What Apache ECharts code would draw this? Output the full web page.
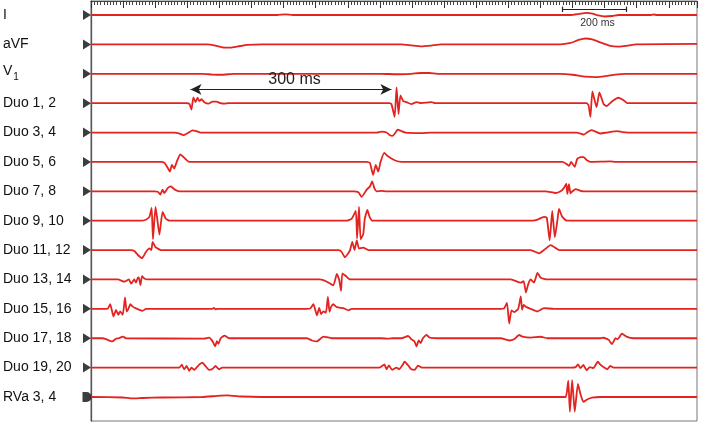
<!DOCTYPE html>
<html>
<head>
<meta charset="utf-8">
<script src="https://cdn.jsdelivr.net/npm/echarts@6/dist/echarts.min.js"></script>
<style>
html,body{margin:0;padding:0;background:#fff;}
#chart{width:701px;height:422px;}
</style>
</head>
<body>
<div id="chart"></div>
<script>
// Channel names (top to bottom)
const channelNames = ['I','aVF','V1','Duo 1, 2','Duo 3, 4','Duo 5, 6','Duo 7, 8','Duo 9, 10',
  'Duo 11, 12','Duo 13, 14','Duo 15, 16','Duo 17, 18','Duo 19, 20','RVa 3, 4'];
const channelStep = 30;          // amplitude units between neighbouring baselines
const timeMin = 0, timeMax = 1888; // ms

// Traces: [time (ms), amplitude (relative to channel baseline)]
const leadI = [[0,0],[580,0],[605,0.6],[629,0],[1494,0],[1519,1],[1544,2.2],[1562,1.5],[1581,-0.5],[1600,-1.5],[1624,-1],[1643,0],[1742,0],[1752,0.5],[1764,0],[1888,0]];
const leadAVF = [[0,0],[363,0],[384,-1],[409,-3],[434,-3.3],[459,-2],[487,-0.5],[533,0],[967,0],[998,-1],[1029,-2],[1060,-1.2],[1091,0],[1463,0],[1494,1.5],[1519,4.5],[1541,6],[1562,5],[1587,2],[1618,-1.5],[1643,-2.2],[1668,-1.5],[1699,0],[1888,0.5]];
const leadV1 = [[0,0],[347,0],[378,-0.8],[409,-1],[446,0],[905,0],[952,-0.5],[998,0],[1029,0.8],[1054,0.8],[1079,0],[1463,0],[1500,-1],[1541,-3],[1572,-3.5],[1603,-2.5],[1634,-0.8],[1665,0],[1888,0]];
const duo12 = [[0,0],[298,0],[307,-1],[313,-6.5],[319,6],[326,1],[332,5.5],[338,2],[344,4],[353,1],[366,-0.5],[378,1.5],[391,1.5],[403,0],[415,-0.5],[428,0],
  [930,0],[936,-1],[946,-14],[952,16],[958,-11],[964,8],[973,2],[983,1],[998,-1],[1014,1],[1029,0],[1060,1],[1073,0],
  [1544,0],[1550,-2],[1556,-14],[1562,12],[1575,-4],[1584,11],[1597,-1],[1606,-3],[1624,2],[1643,5.5],[1659,3],[1671,0],[1888,0]];
const duo34 = [[0,0],[260,0],[276,-1],[288,-2.7],[304,0],[316,2.3],[329,1.5],[341,0],
  [890,0],[905,1],[921,0],[930,-2.5],[939,-3.5],[949,0],[955,3],[967,1.5],[980,0],[1029,-0.5],[1060,0],
  [1513,0],[1525,-1],[1535,-2.2],[1547,0.5],[1559,2.5],[1572,1],[1587,-1],[1606,0],[1624,1],[1640,1.5],[1655,0.5],[1674,0],[1888,0]];
const duo56 = [[0,0],[217,0],[229,-1],[239,-6],[246,-10],[252,-3],[259,-6.7],[267,0],[278,7.7],[288,5],[306,0],
  [859,0],[869,-1],[879,-13.3],[887,-3],[895,-10],[902,0],[914,9.3],[924,6],[946,1.7],[967,0],
  [1469,0],[1479,-1.5],[1489,-4],[1496,0],[1507,-5],[1515,3.3],[1525,5],[1535,5],[1544,2],[1556,0],[1618,0.5],[1634,0],[1888,0]];
const duo78 = [[0,0],[198,0],[208,-0.5],[216,-3.3],[223,1.7],[228,-1.7],[239,3.3],[249,5],[260,2],[275,0],
  [818,0],[833,-1],[843,-5.7],[859,1.7],[869,5],[876,10],[883,3],[890,0],[905,0.5],[921,0],
  [1417,0],[1448,-1.7],[1463,0],[1473,3.3],[1481,7.7],[1484,-2.7],[1489,7.3],[1494,-2],[1500,0],[1510,2.3],[1525,0.5],[1535,0],[1888,0]];
const duo910 = [[0,0],[155,0],[171,1],[182,4],[189,13],[193,-19],[201,14],[206,3],[213,-14.3],[223,9],[233,2],[245,0],
  [797,0],[812,2],[825,10],[829,-18],[835,14],[840,-19],[848,-14],[853,2],[861,11],[868,4],[877,0],
  [1376,0],[1391,1],[1411,4],[1420,3],[1429,-20],[1437,10],[1445,-17],[1453,0],[1458,12],[1468,4],[1482,0],[1888,0]];
const duo1112 = [[0,0],[124,0],[135,-1],[146,-5],[159,-8.3],[171,-2],[182,1.7],[188,0],[192,8.3],[201,3],[218,0],
  [772,0],[781,-2],[791,-7.3],[802,-3],[807,0],[814,8.3],[821,0],[828,10],[835,1.5],[848,2.5],[864,0],
  [1370,0],[1396,-3.3],[1411,0],[1432,5],[1448,2],[1458,0],[1888,0]];
const duo1314 = [[0,0],[74,0],[84,0],[104,-2.3],[118,0],[125,-4.3],[132,-1],[135,0],[140,-3.3],[146,1.7],[149,2],[154,-5.7],[159,3.3],[166,1],[177,0],
  [713,0],[735,-2.3],[755,-6],[766,5.7],[773,0],[779,-11.7],[783,6.3],[794,3.5],[807,0],
  [1308,0],[1339,-3.3],[1348,-1.7],[1355,-13.3],[1362,-5],[1370,0],[1380,-3.3],[1391,6.7],[1401,1.7],[1422,0],[1888,0]];
const duo1516 = [[0,0],[47,0],[53,0.5],[60,4.7],[70,-7.7],[78,-1],[85,-6],[91,-2.7],[99,-6],[106,11.7],[111,-2.7],[115,-1],[123,4.7],[130,2.3],[140,0.5],[151,-1],[161,-2],[171,0],
  [378,0],[383,1],[388,-0.5],[394,0],
  [673,0],[683,0.5],[693,4.7],[704,-6.7],[711,1],[717,-5.3],[724,-2.7],[732,-4],[738,12.3],[743,-3],[748,2],[755,4.7],[766,1.7],[786,0.7],[802,-1.5],[812,0],
  [1277,0],[1287,0.5],[1296,6],[1303,-15],[1310,-1.5],[1318,-3.3],[1331,0],[1339,12.7],[1343,-1],[1348,4],[1355,2],[1370,0],[1391,-2.7],[1411,0.7],[1442,0],[1888,0]];
const duo1718 = [[0,0],[37,0],[47,-1],[66,-3.3],[78,-0.5],[87,0],[99,1.7],[109,0],
  [352,-0.3],[368,0.7],[378,-2.7],[387,-8.3],[392,-3],[397,-5.7],[404,0],[416,2.7],[430,0],
  [673,0],[688,-2.3],[704,-3.3],[713,-1],[724,1.7],[735,1],[750,0],[905,0],[926,-0.5],[942,0],
  [967,0],[988,2.3],[998,-1],[1008,-3.3],[1014,-8.3],[1021,-2.3],[1027,-5],[1034,0],[1045,3.3],[1055,0.7],[1091,0],
  [1277,0],[1303,-2.3],[1318,-1],[1334,3.3],[1344,1.7],[1370,0.7],[1401,1.5],[1422,0],
  [1587,0],[1597,0.5],[1613,-1.7],[1623,-6],[1634,0],[1641,-1],[1654,4.7],[1670,1.3],[1690,0],[1888,0]];
const duo1920 = [[0,0],[267,0],[275,0],[283,3],[290,-1.7],[298,1.7],[306,-3.3],[313,0],[321,-2.3],[335,2.3],[347,5],[357,1.5],[368,-2.3],[378,-1.5],[388,1.7],[399,-1.7],[409,0],
  [899,0],[914,3.3],[921,-1.7],[928,2.3],[938,-2.3],[952,0],[960,-1.7],[972,3.3],[977,6],[990,1.5],[998,-1.7],[1008,-2.3],[1019,2],[1031,0],
  [1497,0],[1510,0.5],[1517,3.3],[1525,-0.5],[1534,2.7],[1544,-2.7],[1554,0.5],[1565,-0.5],[1579,6],[1587,3],[1597,0.5],[1608,-1.7],[1618,1.7],[1628,0],[1888,0]];
const rva34 = [[0,0],[99,-0.5],[130,-1.5],[161,-1],[223,-0.5],[347,0],[394,1.2],[425,1.7],[471,0.5],[533,0],
  [1463,0],[1479,0],[1483,6],[1487,16.7],[1492,-15],[1499,17.3],[1507,-15],[1517,13.3],[1525,3],[1534,-5],[1546,-2.5],[1561,-0.7],[1587,0],[1888,0]];

const traces = [leadI, leadAVF, leadV1, duo12, duo34, duo56, duo78, duo910, duo1112, duo1314, duo1516, duo1718, duo1920, rva34];

// Annotations
const intervalArrow = {from: 310, to: 936, level: 314, text: '300 ms', textAt: [634, 323.6]};
const scaleBar = {from: 1468, to: 1668, level: 395.8, text: '200 ms', textAt: [1578, 381.5]};

const baseline = i => (channelNames.length - 1 - i) * channelStep;
const baselines = channelNames.map((n, i) => baseline(i));

const red = '#e2231f';
const font = '"Liberation Sans", Arial, Helvetica, sans-serif';

const series = traces.map((tr, i) => ({
  type: 'line',
  name: channelNames[i],
  data: tr.map(p => [p[0], baseline(i) + p[1]]),
  showSymbol: false,
  smooth: 0.15,
  lineStyle: {color: red, width: 1.8},
  silent: true,
  animation: false
}));

// channel markers
series.push({
  type: 'scatter',
  clip: false,
  silent: true,
  animation: false,
  data: baselines.map((b, i) => {
    const last = i === baselines.length - 1;
    return {
      value: [timeMin, b],
      symbol: last ? 'path://M0,0 L4,0 A5,5 0 0 1 4,10 L0,10 Z' : 'triangle',
      symbolSize: last ? [9, 10] : [10, 8],
      symbolRotate: last ? 0 : -90,
      symbolOffset: last ? [-4, 0] : [-4, 0]
    };
  }),
  itemStyle: {color: '#0d0d0d'}
});

// annotations (arrow, scale bar, texts)
series.push({
  type: 'line',
  data: [],
  silent: true,
  animation: false,
  markLine: {
    silent: true,
    animation: false,
    label: {show: false},
    data: [
      [{coord: [intervalArrow.from, intervalArrow.level], symbol: 'arrow', symbolSize: [8, 11]},
       {coord: [intervalArrow.to, intervalArrow.level], symbol: 'arrow', symbolSize: [8, 11]}],
      [{coord: [scaleBar.from, scaleBar.level], symbol: 'none'}, {coord: [scaleBar.to, scaleBar.level], symbol: 'none'}],
      [{coord: [scaleBar.from, scaleBar.level + 2.8], symbol: 'none'}, {coord: [scaleBar.from, scaleBar.level - 2.8], symbol: 'none'}],
      [{coord: [scaleBar.to, scaleBar.level + 2.8], symbol: 'none'}, {coord: [scaleBar.to, scaleBar.level - 2.8], symbol: 'none'}]
    ],
    lineStyle: {color: '#222', width: 1.2, type: 'solid'}
  },
  markPoint: {
    silent: true,
    animation: false,
    symbol: 'circle',
    symbolSize: 0,
    data: [
      {coord: intervalArrow.textAt, label: {show: true, formatter: intervalArrow.text, fontSize: 16, color: '#222', fontFamily: font}},
      {coord: scaleBar.textAt, label: {show: true, formatter: scaleBar.text, fontSize: 10.5, color: '#333', fontFamily: font}}
    ]
  }
});

const chart = echarts.init(document.getElementById('chart'), null, {renderer: 'canvas'});
chart.setOption({
  animation: false,
  backgroundColor: '#fff',
  grid: {left: 88, top: 1, width: 609, height: 420, show: true, borderColor: '#777', borderWidth: 1},
  xAxis: {
    type: 'value', position: 'top', min: timeMin, max: timeMax, interval: 100,
    axisLine: {show: true, onZero: false, lineStyle: {color: '#444', width: 1}},
    axisTick: {show: true, inside: true, length: 7, lineStyle: {color: '#333', width: 1}},
    minorTick: {show: true, splitNumber: 10, length: 4, lineStyle: {color: '#444', width: 1}},
    axisLabel: {show: false},
    splitLine: {show: false}
  },
  yAxis: {
    type: 'value', min: -24.5, max: 404.3,
    axisLine: {show: true, onZero: false, lineStyle: {color: '#555', width: 1.3}},
    axisTick: {show: false},
    splitLine: {show: false},
    axisLabel: {
      show: true,
      customValues: baselines,
      align: 'left',
      margin: 88,
      fontSize: 14,
      color: '#111',
      fontFamily: font,
      formatter: v => {
        const i = baselines.indexOf(v);
        const n = channelNames[i];
        if (n === 'V1') return '{v|V}{s|1}';
        return n;
      },
      rich: {
        v: {fontSize: 14, color: '#111', fontFamily: font, verticalAlign: 'bottom', lineHeight: 16, padding: [0, 0, 4, 0]},
        s: {fontSize: 10, color: '#111', fontFamily: font, verticalAlign: 'bottom', lineHeight: 11, padding: [0, 0, 0, 1]}
      }
    }
  },
  series: series
});
</script>
</body>
</html>
